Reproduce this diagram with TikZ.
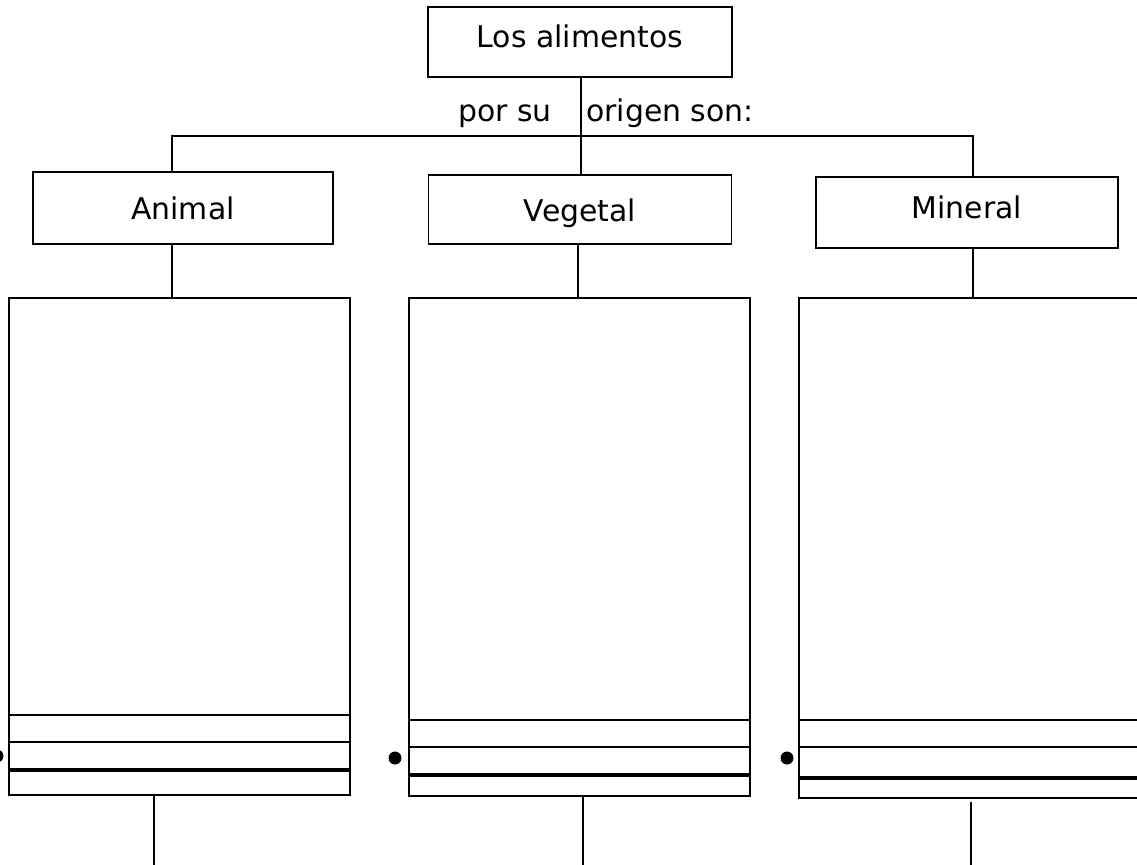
\documentclass[tikz,border=0pt]{standalone}
\usepackage{fontspec}
\setmainfont{DejaVu Sans}
\begin{document}
\begin{tikzpicture}[x=0.02cm,y=-0.02cm,
    tag/.style={draw, line width=1.1pt, font=\fontsize{17}{20}\selectfont, text height=14pt, text depth=0.5pt},
    bigbox/.style={draw, line width=1.1pt, minimum width=6.82cm},
    wire/.style={line width=1.1pt},
    rule/.style={line width=1.1pt},
    thickrule/.style={line width=2.6pt},
    dot/.style={circle, fill, inner sep=0pt, minimum size=0.26cm}]
  \useasboundingbox (0,0) rectangle (1137,865);
  \clip (0,0) rectangle (1137,865);

    \node [tag, minimum width=6.08cm, minimum height=1.4cm, text height=12.5pt, text depth=6pt] (alimentos) at (580,42) {Los alimentos};
    \node [font=\fontsize{17}{20}\selectfont, anchor=base] (porsu) at (505,122) {por su};
    \node [font=\fontsize{17}{20}\selectfont, anchor=base west, inner sep=0pt] (origen) at (586,122) {origen son:};

    \node [tag, minimum width=6.0cm, minimum height=1.44cm] (animal) at (183,208) {Animal};
    \node [tag, minimum width=6.06cm, minimum height=1.38cm] (vegetal) at (580,209.5) {Vegetal};
    \node [tag, minimum width=6.04cm, minimum height=1.42cm, text height=12.5pt, text depth=6pt] (mineral) at (967,212.5) {Mineral};

    \node [bigbox, minimum height=9.94cm] (animalbox) at (179.5,546.5) {};
    \node [bigbox, minimum height=9.96cm] (vegetalbox) at (579.5,547) {};
    \node [bigbox, minimum height=10cm] (mineralbox) at (969.5,548) {};

  % drop points of the connectors
  \coordinate (fork) at (581,136);
  \coordinate (animaldrop) at (172,0);
  \coordinate (mineraldrop) at (973,0);
  \coordinate (animalend) at (154,865);
  \coordinate (vegetalend) at (583,865);
  \coordinate (mineralend) at (971,865);

  \draw [wire] (alimentos.south -| fork) -- (vegetal.north -| fork);
  \draw [wire] (animal.north -| animaldrop) |- (fork) -| (mineral.north -| mineraldrop);

  \draw [wire] (animal.south -| animaldrop) -- (animalbox.north -| animaldrop);
  \draw [wire] (vegetal.south -| 578,0) -- (vegetalbox.north -| 578,0);
  \draw [wire] (mineral.south -| mineraldrop) -- (mineralbox.north -| mineraldrop);

  \draw [wire] (animalbox.south -| animalend) -- (animalend);
  \draw [wire] (vegetalbox.south -| vegetalend) -- (vegetalend);
  \draw [wire] ([yshift=-0.06cm]mineralbox.south -| mineralend) -- (mineralend);

  % lines at the foot of each box
  \draw [rule] ([yshift=1.62cm]animalbox.south west) -- ([yshift=1.62cm]animalbox.south east);
  \draw [rule] ([yshift=1.08cm]animalbox.south west) -- ([yshift=1.08cm]animalbox.south east);
  \draw [thickrule] ([yshift=0.52cm]animalbox.south west) -- ([yshift=0.52cm]animalbox.south east);
  \draw [rule] ([yshift=1.54cm]vegetalbox.south west) -- ([yshift=1.54cm]vegetalbox.south east);
  \draw [rule] ([yshift=1.0cm]vegetalbox.south west) -- ([yshift=1.0cm]vegetalbox.south east);
  \draw [thickrule] ([yshift=0.44cm]vegetalbox.south west) -- ([yshift=0.44cm]vegetalbox.south east);
  \draw [rule] ([yshift=1.58cm]mineralbox.south west) -- ([yshift=1.58cm]mineralbox.south east);
  \draw [rule] ([yshift=1.04cm]mineralbox.south west) -- ([yshift=1.04cm]mineralbox.south east);
  \draw [thickrule] ([yshift=0.42cm]mineralbox.south west) -- ([yshift=0.42cm]mineralbox.south east);

    \node [dot] (animaldot) at (-3,756) {};
    \node [dot] (vegetaldot) at (395,758) {};
    \node [dot] (mineraldot) at (787,758) {};
\end{tikzpicture}
\end{document}
